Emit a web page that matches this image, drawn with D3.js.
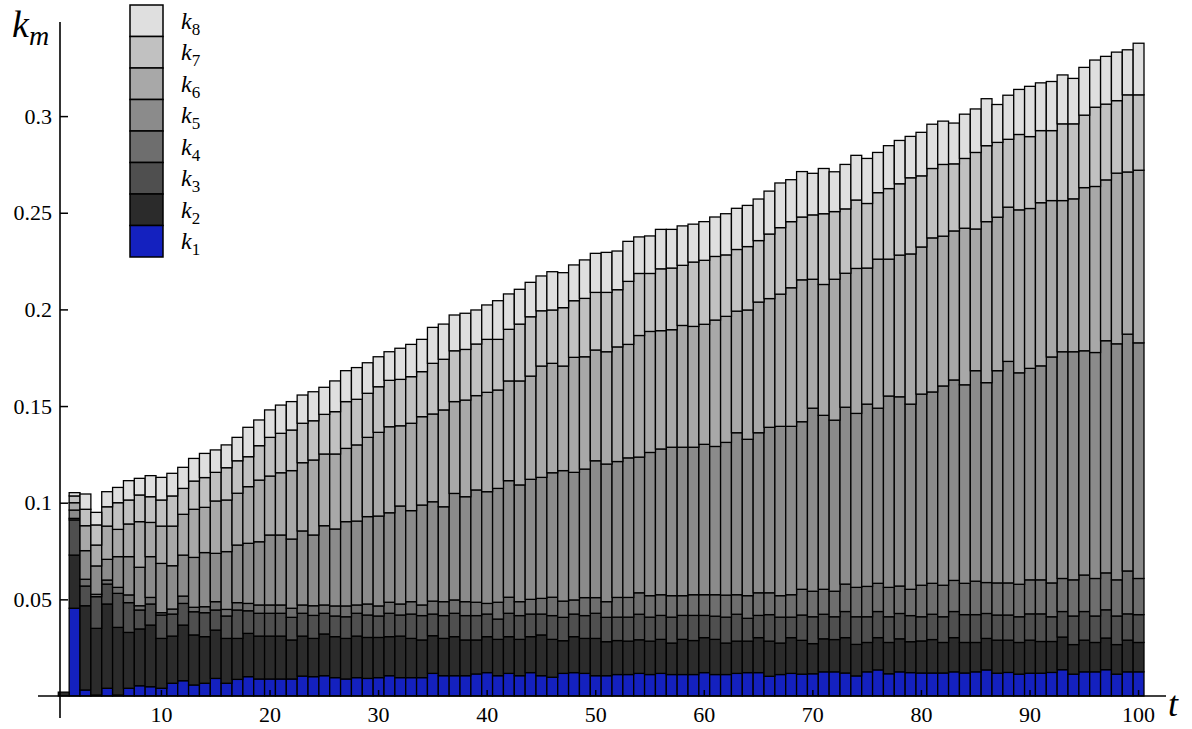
<!DOCTYPE html>
<html><head><meta charset="utf-8">
<script src="https://cdn.jsdelivr.net/npm/d3@7"></script>
<style>
body{margin:0;background:#fff}svg{display:block}
svg text{font-family:"Liberation Serif","Times New Roman",Times,Tinos,"DejaVu Serif","Noto Serif",serif !important;}
</style>
</head><body>
<script>
// time steps
const tValues = d3.range(1, 101);
// series values (k_m contributions)
const k1 = [0,.0454,.0031,.0005,.0040,.0005,.0040,.0053,.0048,.0040,
.0066,.0079,.0057,.0066,.0091,.0066,.0086,.0100,.0088,.0088,
.0088,.0088,.0103,.0100,.0105,.0095,.0088,.0095,.0091,.0095,
.0105,.0095,.0095,.0095,.0117,.0105,.0105,.0105,.0114,.0121,
.0105,.0117,.0105,.0121,.0105,.0097,.0117,.0121,.0117,.0105,
.0105,.0111,.0111,.0117,.0111,.0117,.0111,.0111,.0111,.0121,
.0111,.0111,.0117,.0121,.0121,.0102,.0111,.0117,.0113,.0115,
.0125,.0125,.0119,.0104,.0125,.0135,.0115,.0125,.0121,.0119,
.0119,.0119,.0125,.0119,.0125,.0135,.0118,.0122,.0113,.0118,
.0118,.0122,.0136,.0113,.0125,.0125,.0136,.0113,.0125,.0125];
const k2 = [.0020,.0275,.0436,.0345,.0436,.0350,.0289,.0294,.0319,.0258,
.0244,.0288,.0259,.0241,.0250,.0232,.0212,.0224,.0222,.0222,
.0222,.0202,.0207,.0198,.0216,.0212,.0210,.0215,.0212,.0208,
.0202,.0215,.0203,.0195,.0195,.0193,.0202,.0185,.0176,.0186,
.0188,.0190,.0188,.0186,.0211,.0196,.0169,.0186,.0181,.0193,
.0176,.0176,.0173,.0174,.0173,.0176,.0163,.0182,.0176,.0181,
.0182,.0163,.0167,.0163,.0181,.0182,.0163,.0185,.0175,.0156,
.0171,.0167,.0183,.0163,.0152,.0167,.0162,.0171,.0160,.0166,
.0173,.0158,.0177,.0158,.0152,.0163,.0171,.0167,.0164,.0171,
.0164,.0160,.0169,.0153,.0164,.0152,.0164,.0153,.0164,.0152];
const k3 = [0,.0182,.0102,.0164,.0103,.0176,.0154,.0098,.0109,.0121,
.0114,.0112,.0120,.0124,.0104,.0116,.0147,.0117,.0118,.0118,
.0118,.0117,.0118,.0119,.0107,.0107,.0112,.0118,.0116,.0111,
.0121,.0109,.0126,.0126,.0112,.0118,.0121,.0126,.0126,.0117,
.0105,.0121,.0123,.0117,.0108,.0123,.0121,.0117,.0118,.0130,
.0126,.0121,.0124,.0132,.0124,.0124,.0134,.0124,.0130,.0115,
.0120,.0134,.0139,.0118,.0115,.0137,.0134,.0106,.0131,.0139,
.0127,.0118,.0135,.0143,.0133,.0135,.0133,.0131,.0135,.0125,
.0131,.0133,.0135,.0144,.0144,.0129,.0130,.0130,.0133,.0136,
.0143,.0128,.0132,.0148,.0148,.0137,.0146,.0148,.0136,.0144];
const k4 = [0,.0008,.0035,.0012,.0021,.0031,.0040,.0022,.0034,.0012,
.0026,.0038,.0023,.0031,.0043,.0034,.0038,.0038,.0043,.0043,
.0043,.0047,.0043,.0050,.0043,.0052,.0056,.0043,.0057,.0052,
.0057,.0057,.0064,.0055,.0067,.0072,.0069,.0072,.0069,.0055,
.0087,.0083,.0072,.0076,.0081,.0095,.0084,.0073,.0093,.0081,
.0081,.0102,.0102,.0111,.0111,.0107,.0111,.0102,.0107,.0107,
.0111,.0114,.0101,.0117,.0117,.0113,.0111,.0116,.0133,.0132,
.0129,.0132,.0142,.0152,.0157,.0146,.0152,.0142,.0136,.0163,
.0160,.0163,.0161,.0162,.0173,.0160,.0166,.0166,.0168,.0176,
.0176,.0175,.0171,.0187,.0189,.0194,.0191,.0187,.0222,.0187];
const k5 = [0,.0043,.0148,.0147,.0107,.0159,.0198,.0199,.0211,.0255,
.0224,.0212,.0258,.0280,.0250,.0299,.0298,.0311,.0327,.0362,
.0362,.0358,.0383,.0366,.0410,.0398,.0436,.0434,.0452,.0465,
.0463,.0507,.0471,.0517,.0514,.0491,.0551,.0543,.0581,.0578,
.0589,.0603,.0604,.0621,.0626,.0644,.0675,.0660,.0665,.0708,
.0712,.0703,.0722,.0702,.0741,.0754,.0768,.0768,.0763,.0778,
.0767,.0790,.0838,.0809,.0828,.0856,.0876,.0871,.0867,.0947,
.0900,.0885,.0915,.0900,.0943,.0906,.0990,.0979,.0958,.0989,
.0990,.1031,.1037,.1027,.1089,.1034,.1098,.1146,.1094,.1094,
.1107,.1169,.1173,.1180,.1160,.1169,.1201,.1221,.1225,.1219];
const k6 = [0,.0038,.0129,.0108,.0172,.0141,.0169,.0236,.0177,.0193,
.0205,.0211,.0249,.0234,.0271,.0267,.0268,.0293,.0319,.0305,
.0322,.0354,.0353,.0388,.0371,.0388,.0379,.0394,.0410,.0433,
.0445,.0415,.0452,.0457,.0454,.0501,.0475,.0500,.0488,.0514,
.0509,.0516,.0538,.0534,.0576,.0566,.0541,.0595,.0581,.0573,
.0581,.0593,.0587,.0629,.0626,.0612,.0608,.0630,.0625,.0621,
.0654,.0652,.0629,.0669,.0676,.0666,.0684,.0717,.0734,.0667,
.0677,.0729,.0693,.0750,.0704,.0771,.0708,.0733,.0777,.0761,
.0797,.0775,.0771,.0810,.0733,.0833,.0794,.0798,.0843,.0827,
.0844,.0809,.0782,.0791,.0844,.0859,.0832,.0883,.0839,.0893];
const k7 = [0,.0035,.0085,.0104,.0100,.0138,.0124,.0138,.0133,.0135,
.0156,.0134,.0146,.0154,.0148,.0167,.0168,.0155,.0178,.0200,
.0204,.0210,.0204,.0203,.0205,.0219,.0242,.0236,.0228,.0236,
.0240,.0240,.0241,.0233,.0262,.0262,.0263,.0262,.0267,.0274,
.0262,.0267,.0294,.0307,.0286,.0276,.0302,.0293,.0302,.0298,
.0307,.0296,.0326,.0321,.0300,.0320,.0319,.0311,.0333,.0331,
.0329,.0318,.0319,.0328,.0318,.0334,.0344,.0342,.0325,.0333,
.0366,.0350,.0333,.0354,.0334,.0344,.0365,.0369,.0394,.0368,
.0359,.0371,.0347,.0361,.0396,.0393,.0387,.0351,.0390,.0372,
.0373,.0362,.0397,.0388,.0375,.0410,.0392,.0375,.0399,.0390];
const k8 = [0,.0017,.0079,.0065,.0078,.0079,.0100,.0086,.0109,.0117,
.0117,.0109,.0117,.0125,.0116,.0118,.0121,.0152,.0133,.0142,
.0146,.0147,.0146,.0150,.0140,.0159,.0160,.0164,.0158,.0155,
.0148,.0161,.0167,.0167,.0186,.0182,.0185,.0187,.0176,.0178,
.0200,.0183,.0180,.0178,.0180,.0198,.0181,.0185,.0199,.0202,
.0207,.0200,.0207,.0189,.0194,.0204,.0200,.0204,.0196,.0200,
.0204,.0213,.0213,.0213,.0215,.0222,.0231,.0217,.0235,.0215,
.0234,.0206,.0230,.0231,.0233,.0208,.0222,.0224,.0214,.0225,
.0229,.0224,.0211,.0229,.0225,.0243,.0196,.0228,.0233,.0260,
.0247,.0254,.0253,.0235,.0247,.0244,.0247,.0251,.0233,.0267];

const seriesKeys = ["k1","k2","k3","k4","k5","k6","k7","k8"];
const legendSubs = ["1","2","3","4","5","6","7","8"];
const colors = ["#1421bf","#2b2b2b","#4f4f4f","#6e6e6e","#8b8b8b","#a8a8a8","#c1c1c1","#dfdfdf"];
const yTicks = [0.05,0.1,0.15,0.2,0.25,0.3];
const yTickLabels = ["0.05","0.1","0.15","0.2","0.25","0.3"];
const xTicks = [10,20,30,40,50,60,70,80,90,100];

const W = 1192, H = 729;
const svg = d3.select("body").append("svg").attr("width", W).attr("height", H);

const x = d3.scaleBand().domain(tValues).range([58.3, 1144]).padding(0);
const y = d3.scaleLinear().domain([0, 0.3]).range([696, 116.1]);

const all = [k1,k2,k3,k4,k5,k6,k7,k8];
const table = tValues.map((t, i) => {
  const o = {t};
  seriesKeys.forEach((k, j) => o[k] = all[j][i]);
  return o;
});
const stacked = d3.stack().keys(seriesKeys)(table);

svg.append("g").selectAll("g").data(stacked).join("g")
  .attr("fill", (d, i) => colors[i])
  .selectAll("rect").data(d => d.filter(s => s[1] - s[0] > 0)).join("rect")
  .attr("x", d => x(d.data.t))
  .attr("width", x.bandwidth())
  .attr("y", d => y(d[1]))
  .attr("height", d => y(d[0]) - y(d[1]))
  .attr("stroke", "#000")
  .attr("stroke-width", 1.3);

// axes lines (extended, Mathematica style)
svg.append("line").attr("x1", 60).attr("x2", 60).attr("y1", 22).attr("y2", 718)
  .attr("stroke", "#000").attr("stroke-width", 1.6);
svg.append("line").attr("x1", 38).attr("x2", 1166).attr("y1", y(0)).attr("y2", y(0))
  .attr("stroke", "#000").attr("stroke-width", 1.6);

// y axis ticks
const yAxis = d3.axisLeft(y).tickValues(yTicks).tickFormat((d, i) => yTickLabels[i])
  .tickSize(-8).tickPadding(8);
const gy = svg.append("g").attr("transform", "translate(60,0)").call(yAxis);
gy.select(".domain").remove();
gy.selectAll("line").attr("stroke", "#000").attr("stroke-width", 1.5);
gy.selectAll("text").style("font-size", "22px").attr("fill", "#000");

// x axis ticks
const xAxis = d3.axisBottom(x).tickValues(xTicks).tickSize(-6).tickPadding(10);
const gx = svg.append("g").attr("transform", `translate(0,${y(0)})`).call(xAxis);
gx.select(".domain").remove();
gx.selectAll("line").attr("stroke", "#000").attr("stroke-width", 1.5);
gx.selectAll("text").style("font-size", "22px").attr("fill", "#000");

// axis labels
const yl = svg.append("text").attr("x", 12).attr("y", 37).style("font-style", "italic");
yl.append("tspan").style("font-size", "38px").text("k");
yl.append("tspan").style("font-size", "28px").attr("dy", 8).text("m");

svg.append("text").attr("x", 1168).attr("y", 716)
  .style("font-style", "italic").style("font-size", "36px").text("t");

// legend
const legH = 31.5, legX = 130, legY = 5, legW = 33;
const leg = svg.append("g");
const order = d3.range(7, -1, -1);
order.forEach((si, row) => {
  const yy = legY + row * legH;
  leg.append("rect").attr("x", legX).attr("y", yy).attr("width", legW).attr("height", legH)
    .attr("fill", colors[si]).attr("stroke", "#000").attr("stroke-width", 1.5);
  const tx = leg.append("text").attr("x", 181).attr("y", yy + legH / 2 + 8);
  tx.append("tspan").style("font-style", "italic").style("font-size", "24px").text("k");
  tx.append("tspan").style("font-size", "17px").attr("dy", 6).text(legendSubs[si]);
});
</script>
</body></html>
